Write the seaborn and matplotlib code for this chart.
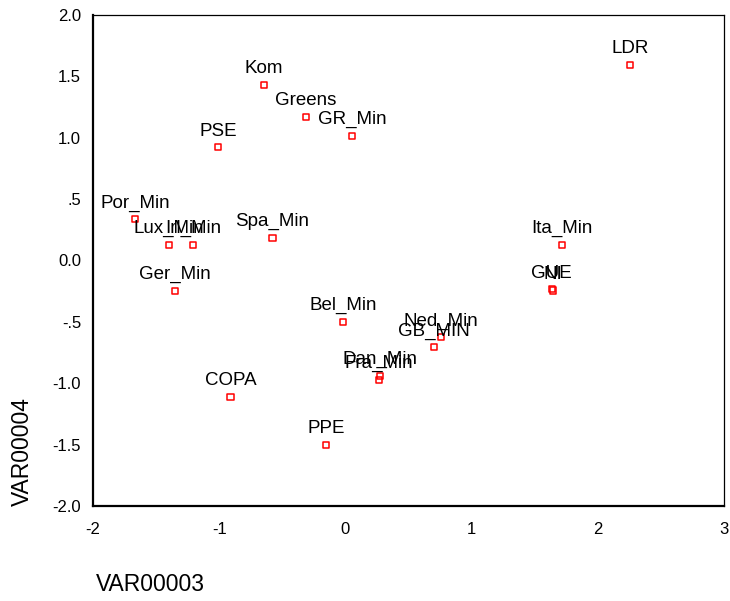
import numpy as np
import pandas as pd
import matplotlib
matplotlib.use("Agg")
import matplotlib.pyplot as plt
import seaborn as sns

# Datos (coordenadas de cada grupo)
etiquetas = ["LDR", "Kom", "Greens", "GR_Min", "PSE", "Por_Min", "Lux_Min",
             "Irl_Min", "Spa_Min", "Ger_Min", "Ita_Min", "GUE", "NI",
             "Bel_Min", "Ned_Min", "GB_MIN", "Dan_Min", "Fra_Min", "COPA", "PPE"]
var3 = [2.258, -0.645, -0.314, 0.051, -1.009, -1.665, -1.400,
        -1.208, -0.578, -1.353, 1.714, 1.635, 1.642,
        -0.018, 0.759, 0.703, 0.273, 0.267, -0.911, -0.155]
var4 = [1.593, 1.432, 1.172, 1.014, 0.922, 0.336, 0.126,
        0.126, 0.186, -0.248, 0.126, -0.235, -0.245,
        -0.499, -0.626, -0.707, -0.941, -0.974, -1.114, -1.503]

xticks = [-2, -1, 0, 1, 2, 3]
xtick_labels = ["-2", "-1", "0", "1", "2", "3"]
yticks = [2.0, 1.5, 1.0, 0.5, 0.0, -0.5, -1.0, -1.5, -2.0]
ytick_labels = ["2.0", "1.5", "1.0", ".5", "0.0", "-.5", "-1.0", "-1.5", "-2.0"]

df = pd.DataFrame({"VAR00003": var3, "VAR00004": var4, "grupo": etiquetas})

sns.set_style("white")
plt.rcParams["font.family"] = ["Liberation Sans", "DejaVu Sans"]
plt.rcParams["text.color"] = "black"
plt.rcParams["xtick.color"] = "black"
plt.rcParams["ytick.color"] = "black"
plt.rcParams["axes.labelcolor"] = "black"

fig = plt.figure(figsize=(7.3, 6.01), dpi=100)
ax = fig.add_axes([93 / 730, 1 - 506 / 601, (724 - 93) / 730, (506 - 15) / 601])

sns.scatterplot(data=df, x="VAR00003", y="VAR00004", ax=ax, marker="s",
                s=20, facecolor="none", edgecolor="#ff0000", linewidth=1.1,
                legend=False, zorder=3)

# Etiquetas encima de cada punto
for _, fila in df.iterrows():
    ax.annotate(fila["grupo"], (fila["VAR00003"], fila["VAR00004"]),
                xytext=(0, 8.5), textcoords="offset points",
                ha="center", va="baseline", fontsize=13.5, color="black")

ax.set_xlim(-2, 3)
ax.set_ylim(-2, 2)
ax.set_xticks(xticks)
ax.set_xticklabels(xtick_labels)
ax.set_yticks(yticks)
ax.set_yticklabels(ytick_labels)
ax.tick_params(axis="x", direction="out", length=2.5, width=2, pad=9,
               labelsize=12, color="black", labelcolor="black")
ax.tick_params(axis="y", direction="out", length=2.5, width=2, pad=6,
               labelsize=12, color="black", labelcolor="black")
ax.set_xlabel("")
ax.set_ylabel("")

for lado in ["left", "bottom"]:
    ax.spines[lado].set_linewidth(1.6)
    ax.spines[lado].set_color("black")
for lado in ["top", "right"]:
    ax.spines[lado].set_linewidth(0.9)
    ax.spines[lado].set_color("black")

# Titulos de ejes en la posicion tipo SPSS
fig.text(150 / 730, 1 - 591 / 601, "VAR00003", ha="center", va="baseline",
         fontsize=16.5, color="black")
fig.text(22 / 730, 1 - 452 / 601, "VAR00004", ha="center", va="center",
         rotation=90, fontsize=16.5, color="black")

fig.savefig("out.png", dpi=100)
